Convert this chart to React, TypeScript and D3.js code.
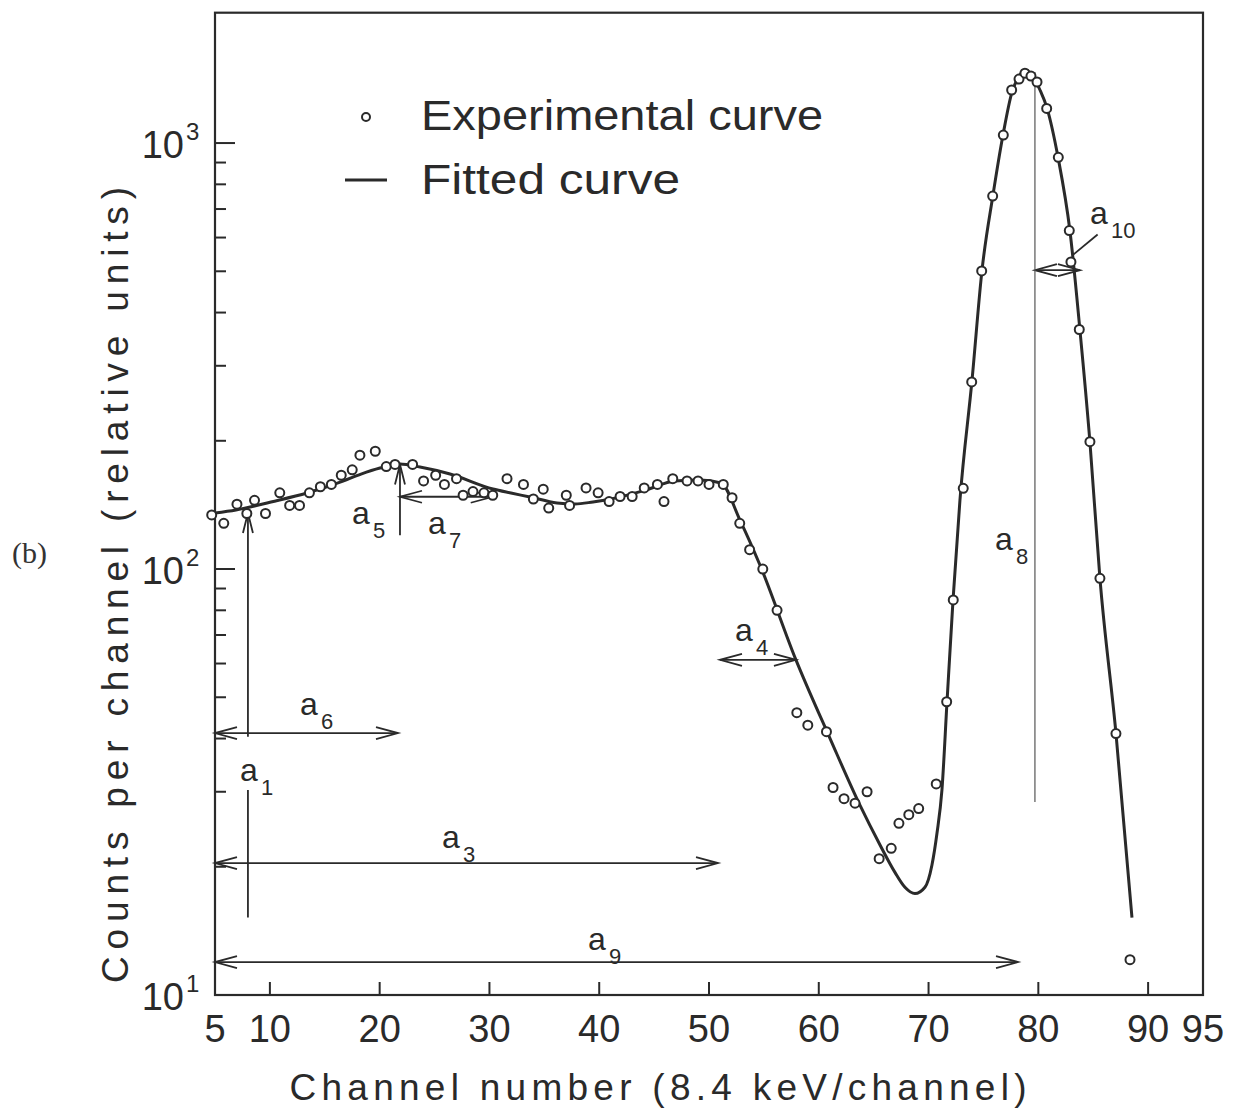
import React from 'react';
import * as d3 from 'd3';

// Experimental points (channel, counts)
const expChannel = [
  4.7, 5.8, 7.0, 7.9, 8.6, 9.6, 10.9, 11.8, 12.7, 13.6, 14.6, 15.6, 16.5, 17.5, 18.2, 19.6,
  20.6, 21.4, 23.0, 24.0, 25.1, 25.9, 27.0, 27.6, 28.5, 29.5, 30.3, 31.6, 33.1, 34.0, 34.9,
  35.4, 37.0, 37.3, 38.8, 39.9, 40.9, 41.9, 43.0, 44.1, 45.3, 45.9, 46.7, 48.0, 49.0, 50.0,
  51.3, 52.1, 52.8, 53.7, 54.9, 56.2, 58.0, 59.0, 60.7, 61.3, 62.3, 63.3, 64.4, 65.5, 66.6,
  67.3, 68.2, 69.1, 70.7, 71.65, 72.25, 73.16, 73.93, 74.84, 75.84, 76.81, 77.57, 78.24,
  78.78, 79.33, 79.88, 80.76, 81.82, 82.82, 82.97, 83.73, 84.7, 85.61, 87.07, 88.35,
];
const expCounts = [
  134, 128, 142, 135, 145, 135, 151, 141, 141, 151, 156, 158, 166, 171, 185, 189,
  174, 176, 176, 161, 166, 158, 163, 149, 152, 151, 149, 163, 158, 146, 154,
  139, 149, 141, 155, 151, 144, 148, 148, 155, 158, 144, 163, 161, 161, 158,
  158, 147, 128, 111, 100, 80, 46, 43, 41.5, 30.7, 28.9, 28.2, 30, 20.9, 22.1,
  25.3, 26.5, 27.4, 31.3, 48.8, 84.6, 154.7, 275, 501, 751, 1044, 1332, 1413,
  1459, 1436, 1391, 1206, 926, 623, 526, 365, 199, 95.1, 41.1, 12.1,
];

// Fitted curve
const fitChannel = [
  5.0, 6.91, 10.1, 13.38, 16.66, 18.3, 20.03, 21.85, 23.67, 26.41, 30.32, 31.96, 33.69,
  36.15, 37.79, 39.43, 41.07, 44.26, 46.9, 49.18, 51.09, 52.82, 54.64, 57.92, 61.01,
  63.75, 65.58, 66.94, 67.85, 68.76, 69.67, 70.31, 70.77, 71.22, 71.68, 72.23, 72.86,
  73.96, 74.87, 75.87, 76.78, 77.6, 78.15, 78.78, 79.42, 80.15, 80.79, 81.79, 82.88,
  83.79, 84.7, 85.61, 87.07, 88.53,
];
const fitCounts = [
  135.4, 137.6, 143.7, 150.8, 160.9, 167.1, 172.6, 176.4, 173.5, 167.1, 154.1, 150.8, 147.6,
  142.9, 142.1, 143.7, 146.0, 153.3, 160.9, 161.8, 159.2, 130.3, 102.2, 61.2, 40.1,
  27.9, 22.5, 19.4, 17.9, 17.3, 17.9, 20.2, 24.0, 30.3, 48.7, 84.6, 145.2,
  277.8, 503.3, 755, 1044, 1317, 1421, 1484, 1444, 1332, 1208, 927, 621.6,
  363.9, 198.6, 95.2, 41.2, 15.2,
];

const xTickValues = [5, 10, 20, 30, 40, 50, 60, 70, 80, 90, 95];
const yMajorTicks = [10, 100, 1000];
const yExponents = ['1', '2', '3'];

// Annotation arrows (horizontal double arrows): y level and x extent
const hArrowY = [41.2, 20.4, 11.95, 61.2, 147.8, 503];
const hArrowX1 = [5, 5, 5, 51.0, 21.85, 79.69];
const hArrowX2 = [21.67, 50.82, 78.15, 57.92, 30.3, 83.79];

// vertical annotation lines
const vLineX = [8.0, 8.0, 21.85, 79.69];
const vLineTop = [135.4, 30.3, 176, 1468];
const vLineBottom = [40.4, 15.2, 120, 28.4];
const vLineHead = [true, false, true, false];
const vLineThin = [false, false, false, true];

// leader for a10
const leaderX = [83.1, 85.4];
const leaderY = [545, 610];

// parameter labels
const annSub = ['1', '6', '3', '9', '4', '5', '7', '8', '10'];
const annX = [7.28, 12.74, 25.68, 38.98, 52.37, 17.48, 24.4, 76.05, 84.7];
const annY = [31.8, 45.4, 22.1, 12.75, 67.8, 127.5, 120.8, 110.8, 645];

function head(tx: number, ty: number, dx: number, dy: number, len = 22, hw = 6) {
  const px = -dy;
  const py = dx;
  return `M${tx - dx * len + px * hw},${ty - dy * len + py * hw}L${tx},${ty}L${tx - dx * len - px * hw},${ty - dy * len - py * hw}`;
}

export default function App() {
  const W = 1248;
  const H = 1115;
  const left = 215, right = 1203, top = 12.7, bottom = 995;
  const x = d3.scaleLinear().domain([5, 95]).range([left, right]);
  const y = d3.scaleLog().domain([10, 2023]).range([bottom, top]);
  const ink = '#2a2a2a';
  const font = '"Liberation Sans", Arial, sans-serif';

  const fitPath = d3
    .line<number>()
    .x((_, i) => x(fitChannel[i]))
    .y((_, i) => y(fitCounts[i]))
    .curve(d3.curveMonotoneX)(fitChannel) as string;

  const minorTicks = y.ticks().filter((v) => v <= 1000 && !yMajorTicks.includes(v));

  return (
    <svg
      width={W}
      height={H}
      viewBox={`0 0 ${W} ${H}`}
      style={{ position: 'absolute', left: 0, top: 0, background: '#fff' }}
    >
      <rect x={0} y={0} width={W} height={H} fill="#fff" />
      {/* frame */}
      <rect x={left} y={top} width={right - left} height={bottom - top} fill="none" stroke={ink} strokeWidth={2.2} />

      {/* y ticks */}
      {yMajorTicks.map((v) => (
        <line key={'M' + v} x1={left} x2={left + 20} y1={y(v)} y2={y(v)} stroke={ink} strokeWidth={2} />
      ))}
      {minorTicks.map((v) => (
        <line key={'m' + v} x1={left} x2={left + 11} y1={y(v)} y2={y(v)} stroke={ink} strokeWidth={2} />
      ))}
      {yMajorTicks.map((v, i) => (
        <g key={'yl' + v} fill={ink} fontFamily={font}>
          <text x={184} y={y(v) + 15} fontSize={38} textAnchor="end">10</text>
          <text x={186} y={y(v) - 3} fontSize={24} textAnchor="start">{yExponents[i]}</text>
        </g>
      ))}

      {/* x ticks */}
      {xTickValues.filter((v) => v > 5 && v < 95).map((v) => (
        <line key={'xt' + v} x1={x(v)} x2={x(v)} y1={bottom} y2={bottom - 13} stroke={ink} strokeWidth={2} />
      ))}
      {xTickValues.map((v) => (
        <text key={'xl' + v} x={x(v)} y={1042} fontSize={38} fontFamily={font} fill={ink} textAnchor="middle">
          {v}
        </text>
      ))}

      {/* axis titles */}
      <text x={658} y={1100} fontSize={37} fontFamily={font} fill={ink} textAnchor="middle" textLength={737} lengthAdjust="spacing">
        Channel number (8.4 keV/channel)
      </text>
      <text
        transform="translate(128,585) rotate(-90)"
        fontSize={37}
        fontFamily={font}
        fill={ink}
        textAnchor="middle"
        textLength={796}
        lengthAdjust="spacing"
      >
        Counts per channel (relative units)
      </text>
      <text x={12} y={563} fontSize={30} fontFamily='"Liberation Serif", "DejaVu Serif", serif' fill="#333">(b)</text>

      {/* legend */}
      <circle cx={366} cy={117} r={4} fill="#fff" stroke={ink} strokeWidth={2} />
      <text x={421} y={130} fontSize={42} fontFamily={font} fill={ink} textLength={402} lengthAdjust="spacingAndGlyphs">
        Experimental curve
      </text>
      <line x1={345} x2={387} y1={180} y2={180} stroke={ink} strokeWidth={3} />
      <text x={421} y={194} fontSize={42} fontFamily={font} fill={ink} textLength={259} lengthAdjust="spacingAndGlyphs">
        Fitted curve
      </text>

      {/* annotations */}
      <g stroke={ink} fill="none" strokeWidth={1.8}>
        {hArrowY.map((v, i) => {
          const yy = y(v);
          const x1 = x(hArrowX1[i]);
          const x2 = x(hArrowX2[i]);
          return (
            <g key={'ha' + i}>
              <line x1={x1} x2={x2} y1={yy} y2={yy} />
              <path d={head(x1, yy, -1, 0)} />
              <path d={head(x2, yy, 1, 0)} />
            </g>
          );
        })}
        {vLineX.map((v, i) => {
          const xx = x(v);
          const y1 = y(vLineTop[i]);
          const y2 = y(vLineBottom[i]);
          return (
            <g key={'va' + i}>
              <line
                x1={xx}
                x2={xx}
                y1={y1}
                y2={y2}
                strokeWidth={vLineThin[i] ? 1.2 : 1.8}
                stroke={vLineThin[i] ? '#555' : ink}
              />
              {vLineHead[i] && <path d={head(xx, y1, 0, -1, 20, 5)} />}
            </g>
          );
        })}
        <line x1={x(leaderX[0])} x2={x(leaderX[1])} y1={y(leaderY[0])} y2={y(leaderY[1])} />
      </g>
      {annSub.map((s, i) => (
        <g key={'al' + i} fill={ink} fontFamily={font}>
          <text x={x(annX[i])} y={y(annY[i])} fontSize={32}>a</text>
          <text x={x(annX[i]) + 21} y={y(annY[i]) + 14} fontSize={22}>{s}</text>
        </g>
      ))}

      {/* fitted curve */}
      <path d={fitPath} fill="none" stroke={ink} strokeWidth={3} strokeLinejoin="round" />

      {/* experimental points */}
      {expChannel.map((c, i) => (
        <circle key={'p' + i} cx={x(c)} cy={y(expCounts[i])} r={4.5} fill="#fff" stroke={ink} strokeWidth={2} />
      ))}
    </svg>
  );
}
